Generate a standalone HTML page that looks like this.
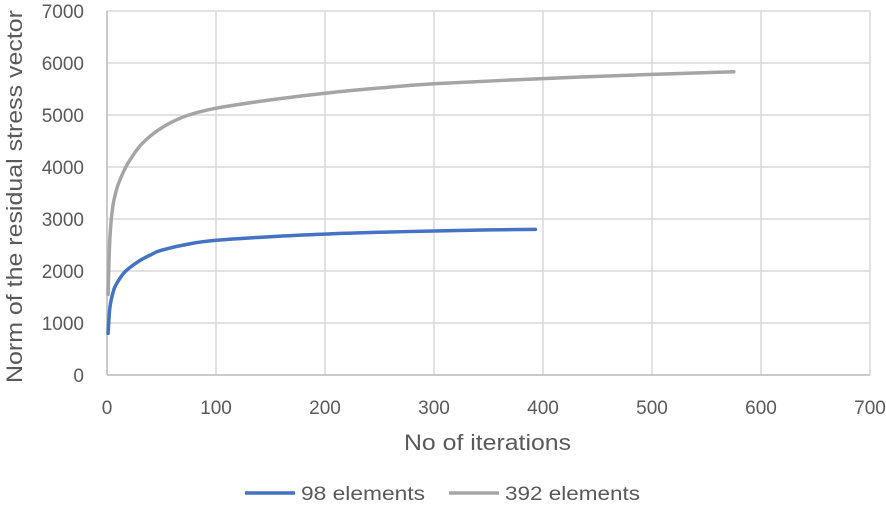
<!DOCTYPE html>
<html><head><meta charset="utf-8"><style>
body{margin:0;background:#fff;font-family:"Liberation Sans",sans-serif}
svg text{font-family:"Liberation Sans",sans-serif;fill:#595959}
</style></head><body>
<svg id="c" width="886" height="507"></svg>
<script>
const xTicks=[0,100,200,300,400,500,600,700];
const yTicks=[0,1000,2000,3000,4000,5000,6000,7000];
const s98x=[1,2,3,5,7,10,15,20,30,40,50,75,100,150,200,250,300,350,393];
const s98y=[800,1150,1350,1550,1680,1800,1950,2050,2200,2310,2400,2520,2590,2660,2710,2745,2770,2790,2800];
const s392x=[1,2,3,5,7,10,15,20,30,40,50,60,75,100,150,200,250,300,400,500,575];
const s392y=[1550,2300,2750,3200,3420,3650,3900,4100,4400,4600,4750,4870,5000,5130,5290,5420,5520,5600,5700,5780,5830];
const NS="http://www.w3.org/2000/svg";
const svg=document.getElementById('c');
const X=v=>107+v*(763/700);
const Y=v=>375-v*(364/7000);
function mk(t,a,p){const e=document.createElementNS(NS,t);for(const k in a)e.setAttribute(k,a[k]);(p||svg).appendChild(e);return e;}
xTicks.forEach(v=>{
 const l=mk('line',{x1:X(v),x2:X(v),y1:Y(0),y2:Y(7000),stroke:'#d9d9d9','stroke-width':1.5});
 
 
 const t=mk('text',{x:X(v),y:414,'text-anchor':'middle','font-size':19});t.textContent=v;
 
 
});
yTicks.forEach(v=>{
 const l=mk('line',{x1:X(0),x2:X(700),y1:Y(v),y2:Y(v),stroke:'#d9d9d9','stroke-width':1.5});
 
 
 const t=mk('text',{x:84,y:Y(v)+7,'text-anchor':'end','font-size':19});t.textContent=v;
 
 
});
const ax=mk('line',{x1:X(0),x2:X(700),y1:Y(0),y2:Y(0),stroke:'#bfbfbf','stroke-width':1.5});


const ay=mk('line',{x1:X(0),x2:X(0),y1:Y(0),y2:Y(7000),stroke:'#bfbfbf','stroke-width':1.5});


function series(xs,ys,col,name){
 const P=xs.map((x,i)=>[X(x),Y(ys[i])]);
 let d='M'+P[0][0].toFixed(1)+','+P[0][1].toFixed(1);
 for(let i=0;i<P.length-1;i++){
  const p0=P[i-1]||P[i],p1=P[i],p2=P[i+1],p3=P[i+2]||P[i+1];
  const c1=[p1[0]+(p2[0]-p0[0])/6,p1[1]+(p2[1]-p0[1])/6];
  const c2=[p2[0]-(p3[0]-p1[0])/6,p2[1]-(p3[1]-p1[1])/6];
  d+=' C'+c1.map(v=>v.toFixed(1))+' '+c2.map(v=>v.toFixed(1))+' '+p2.map(v=>v.toFixed(1));
 }
 const p=mk('path',{d:d,fill:'none',stroke:col,'stroke-width':3.5,'stroke-linejoin':'round','stroke-linecap':'round'});
 
 
}
series(s392x,s392y,'#a5a5a5','series-392-elements');
series(s98x,s98y,'#4472c4','series-98-elements');
const xt=mk('text',{x:404,y:450,'font-size':22,textLength:167,lengthAdjust:'spacingAndGlyphs'});xt.textContent='No of iterations';


const yt=mk('text',{x:0,y:0,'font-size':22,textLength:373,lengthAdjust:'spacingAndGlyphs',transform:'translate(22,383) rotate(-90)'});yt.textContent='Norm of the residual stress vector';


const legend=[['98 elements','#4472c4',245,124],['392 elements','#a5a5a5',449,135]];
legend.forEach(([n,c,x,w])=>{
 const g=mk('g',{});
 
 
 mk('line',{x1:x,x2:x+50,y1:493,y2:493,stroke:c,'stroke-width':3.5},g);
 const t=mk('text',{x:x+56,y:500,'font-size':19,textLength:w,lengthAdjust:'spacingAndGlyphs'},g);t.textContent=n;
});
</script>
</body></html>
